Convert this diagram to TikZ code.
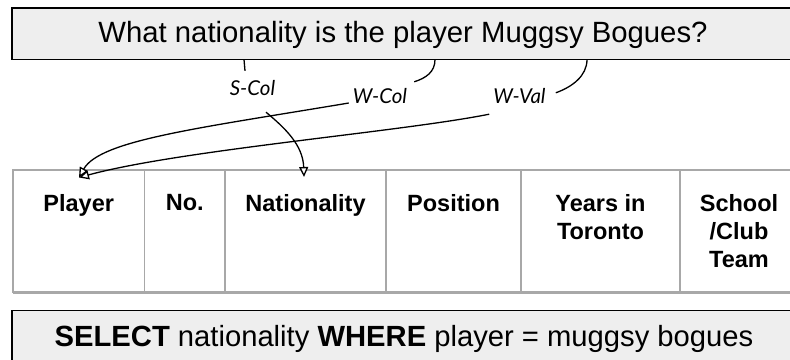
\documentclass[tikz,border=0pt]{standalone}
\usepackage{fontspec}
\setmainfont{Liberation Sans}
\newfontfamily\lblfont{Lato}
\usetikzlibrary{arrows.meta}
\definecolor{boxfill}{HTML}{EEEEEE}
\definecolor{gridgray}{HTML}{A8A8A8}
\begin{document}
\begin{tikzpicture}[x=1pt,y=-1pt,
  textbox/.style={draw=black, line width=1.5pt, fill=boxfill, inner sep=0pt, outer sep=0pt},
  cell/.style={draw=gridgray, line width=1.5pt, inner sep=0pt, outer sep=0pt, minimum height=122pt},
  head/.style={anchor=north, inner sep=0pt, align=center, font=\fontsize{23.5}{28}\selectfont\bfseries},
  tag/.style={anchor=base, inner sep=3pt, text height=14pt, text depth=5pt, font=\fontsize{20.5}{24}\selectfont\lblfont\itshape},
  link/.style={line width=1.3pt, draw=black},
  pointer/.style={link, -{Triangle[fill=white, length=10pt, width=9pt]}}
]
\useasboundingbox (0,0) rectangle (790,359);
\clip (0,0) rectangle (790,359);

% question and query boxes (both run past the right edge)
\node[textbox, minimum width=788pt, minimum height=51.5pt, text height=20pt, text depth=3pt,
      font=\fontsize{29.3}{34}\selectfont] (q) at (406,33.75)
      {\hspace*{-6pt}What nationality is the player Muggsy Bogues?};
\node[textbox, minimum width=792pt, minimum height=56pt, text height=20pt, text depth=4pt,
      font=\fontsize{29.2}{34}\selectfont] (sql) at (408,338.5)
      {\hspace*{-8pt}\textbf{SELECT} nationality \textbf{WHERE} player = muggsy bogues};

% table header cells
\node[cell, minimum width=131.5pt] (c1) at (78.75,231) {};
\node[cell, minimum width=80.5pt]  (c2) at (184.75,231) {};
\node[cell, minimum width=161pt]   (c3) at (305.5,231) {};
\node[cell, minimum width=135pt]   (c4) at (453.5,231) {};
\node[cell, minimum width=159pt]   (c5) at (600.5,231) {};
\node[cell, minimum width=118pt]   (c6) at (739,231) {};
\draw[gridgray, line width=3pt] (c1.south west) -- (c6.south east);

\node[head] (h1) at ([shift={(0,24.2)}]c1.north) {Player};
\node[head] (h2) at ([shift={(0,24.2)}]c2.north) {No.};
\node[head] (h3) at ([shift={(0,24.2)}]c3.north) {Nationality};
\node[head] (h4) at ([shift={(0,24.2)}]c4.north) {Position};
\node[head] (h5) at ([shift={(0,24.2)}]c5.north) {Years in\\Toronto};
\node[head] (h6) at ([shift={(0,24.2)}]c6.north) {School\\/Club\\Team};

% span tags
\node[tag] (scol) at (252.5,95) {S-Col};
\node[tag] (wcol) at (380,103) {W-Col};
\node[tag] (wval) at (519.5,103) {W-Val};

% question spans to tags
\draw[link] ([shift={(232,0)}]q.south west) -- ([shift={(-7.5,-7)}]scol.north);
\draw[link] ([shift={(423,0)}]q.south west) .. controls (435,72) and (426,78) .. ([shift={(4,-4)}]wcol.north east);
\draw[link] ([shift={(575,0)}]q.south west) .. controls (587,76) and (572,87) .. ([shift={(7,7)}]wval.north east);

% tags to columns
\draw[pointer] ([shift={(13.5,9)}]scol.south) .. controls (285,128) and (303,145) .. ([shift={(-1.5,7)}]c3.north);
\draw[pointer] ([shift={(-1,4.5)}]wcol.west) .. controls (200,128) and (100,140) .. ([shift={(0.25,7.5)}]c1.north);
\draw[pointer] ([shift={(-1,3)}]wval.south west) .. controls (400,132) and (180,150) .. ([shift={(0.25,7.5)}]c1.north);
\end{tikzpicture}
\end{document}
